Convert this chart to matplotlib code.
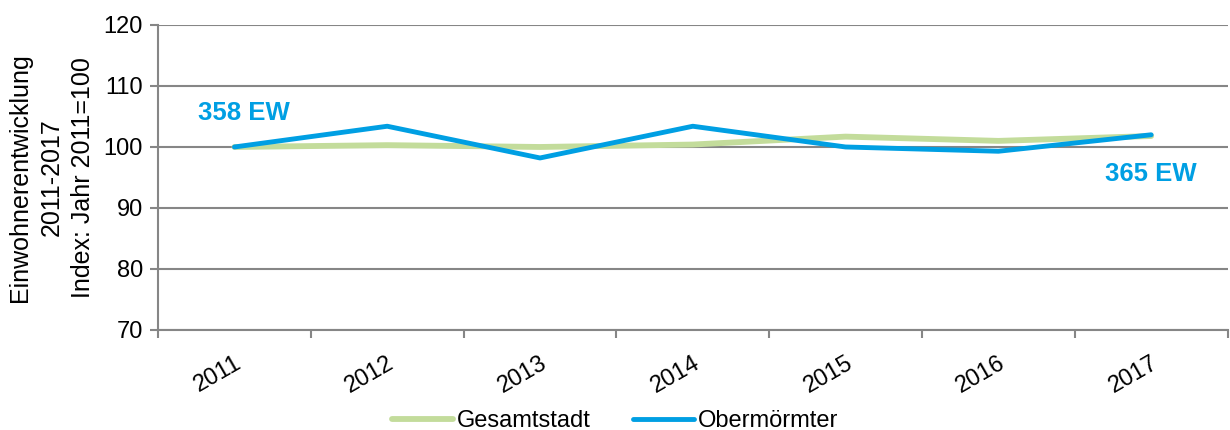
import matplotlib.pyplot as plt

plt.rcParams['font.family'] = ['Liberation Sans', 'DejaVu Sans']

jahre = ["2011", "2012", "2013", "2014", "2015", "2016", "2017"]
gesamtstadt = [100.0, 100.3, 100.0, 100.4, 101.7, 101.0, 101.8]
obermoermter = [100.0, 103.4, 98.2, 103.4, 100.0, 99.3, 102.0]
ew_start = 358
ew_ende = 365

blau = "#009FE3"
gruen = "#C3DC9B"
grau = "#868686"

fig = plt.figure(figsize=(12.3, 4.3), dpi=100)
ax = fig.add_axes([0.1285, 0.2326, 0.8695, 0.7093])

x = list(range(len(jahre)))
ax.plot(x, gesamtstadt, color=gruen, lw=4.2, label="Gesamtstadt", solid_capstyle="round", zorder=3)
ax.plot(x, obermoermter, color=blau, lw=3.5, label="Obermörmter", solid_capstyle="round", zorder=4)

# Einwohnerzahl am Anfang und Ende der Reihe
ax.text(0.06, 105.5, f"{ew_start} EW", color=blau, fontsize=18.5, fontweight="bold", ha="center", va="center")
ax.text(6.0, 95.5, f"{ew_ende} EW", color=blau, fontsize=18.5, fontweight="bold", ha="center", va="center")

ax.set_ylim(70, 120)
ax.set_yticks(range(70, 121, 10))
ax.set_xlim(-0.5, len(jahre) - 0.5)
ax.set_xticks(x)
ax.set_xticklabels(jahre, rotation=30, ha="right", rotation_mode="anchor", fontsize=17)
ax.set_xticks([i - 0.5 for i in range(len(jahre) + 1)], minor=True)
ax.tick_params(axis="x", which="major", length=0, pad=16)
ax.tick_params(axis="x", which="minor", length=6, width=1.5, color=grau, direction="out")
ax.tick_params(axis="y", length=6, width=1.5, color=grau, labelsize=17, pad=5)

ax.grid(axis="y", color=grau, lw=1.5)
ax.set_axisbelow(True)
for s in ["top", "right"]:
    ax.spines[s].set_visible(False)
for s in ["left", "bottom"]:
    ax.spines[s].set_color(grau)
    ax.spines[s].set_linewidth(1.5)

ax.set_ylabel("Einwohnerentwicklung\n2011-2017\nIndex: Jahr 2011=100", fontsize=18,
              linespacing=1.4, labelpad=6)

fig.legend(loc="lower center", bbox_to_anchor=(0.5, -0.055), ncol=2, frameon=False,
           fontsize=17, handlelength=2.6, columnspacing=1.8, handletextpad=0.15)

fig.savefig("out.png", dpi=100)
